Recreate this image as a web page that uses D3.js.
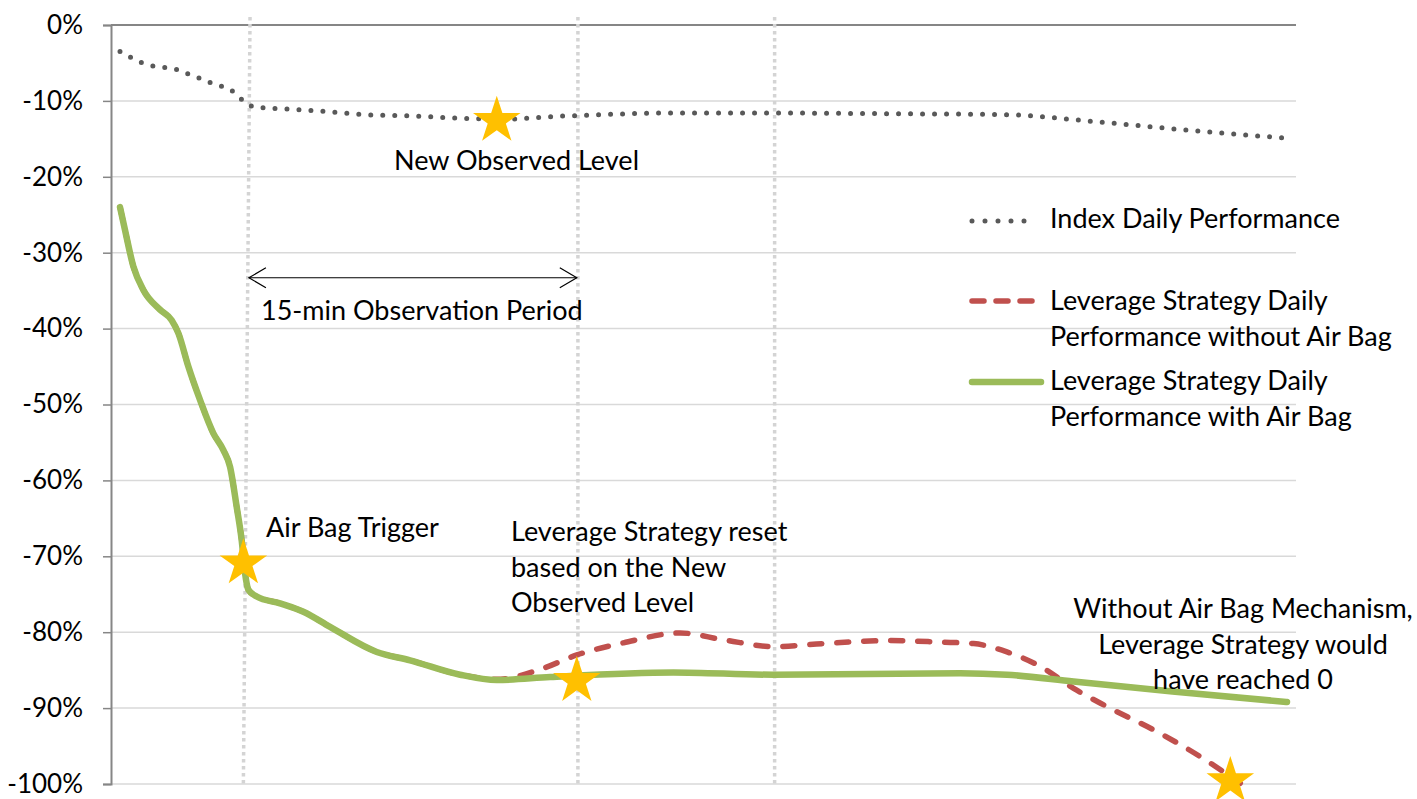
<!DOCTYPE html>
<html lang="en">
<head>
  <meta charset="UTF-8">
  <title>Air Bag Mechanism</title>
  <style>
    body { margin: 0; background: #ffffff; }
    svg { display: block; font-family: 'Lato', sans-serif; }
  </style>
  <script src="https://d3js.org/d3.v7.min.js"></script>
</head>
<body>
  <div id="chart"></div>
  <script>
    // time in half-minute steps; values in %
    const yTicks = [0, -10, -20, -30, -40, -50, -60, -70, -80, -90, -100];

    const tIndex = [0, 1, 2, 3, 4.1, 5.2, 6.2, 7.3, 8.3, 9.4, 10.3, 11.1, 12.1, 15.3, 18.6, 21.9, 26.4, 30.9, 35.1, 38.4, 41.7, 49.5, 58.8, 70.2, 79.4, 87.5, 95.6, 104.9];
    const indexPerf = [-3.5, -4.3, -5.0, -5.4, -5.6, -5.9, -6.5, -7.1, -7.7, -8.2, -8.9, -10.0, -10.8, -11.1, -11.4, -11.8, -12.0, -12.3, -12.4, -12.1, -11.9, -11.6, -11.6, -11.7, -11.8, -12.7, -13.8, -14.9];

    const tWith = [0, 0.45, 1.2, 2.1, 3.6, 4.65, 5.25, 6.15, 7.2, 8.4, 9.3, 9.9, 10.5, 10.95, 11.25, 11.55, 12.3, 14.4, 16.5, 18.9, 23.1, 26.1, 30.6, 33.9, 38.7, 49.8, 58.8, 75.6, 79.8, 85.8, 94.7, 105];
    const withAirBag = [-24.0, -27.0, -31.8, -34.9, -37.5, -38.9, -40.6, -45.0, -49.4, -53.8, -56.0, -58.2, -63.5, -67.9, -72.2, -74.4, -75.3, -76.2, -77.3, -79.3, -82.6, -83.7, -85.6, -86.3, -85.9, -85.3, -85.6, -85.4, -85.6, -86.5, -87.8, -89.2];

    const tWithout = [0, 0.45, 1.2, 2.1, 3.6, 4.65, 5.25, 6.15, 7.2, 8.4, 9.3, 9.9, 10.5, 10.95, 11.25, 11.55, 12.3, 14.4, 16.5, 18.9, 23.1, 26.1, 30.6, 33.9, 37.8, 41.1, 45.3, 50.4, 54.3, 58.8, 63.3, 69.3, 73.8, 76.8, 79.8, 82.8, 85.8, 88.8, 93.3, 97.2, 100.8];
    const withoutAirBag = [-24.0, -27.0, -31.8, -34.9, -37.5, -38.9, -40.6, -45.0, -49.4, -53.8, -56.0, -58.2, -63.5, -67.9, -72.2, -74.4, -75.3, -76.2, -77.3, -79.3, -82.6, -83.7, -85.6, -86.2, -84.9, -83.0, -81.4, -80.1, -81.0, -81.9, -81.5, -81.1, -81.3, -81.5, -82.6, -84.5, -87.4, -89.8, -93.1, -96.4, -99.9];

    // stars: [t, value]
    const starT = [11.1, 33.9, 41.1, 99.9];
    const starV = [-70.9, -12.6, -86.4, -99.6];

    // vertical reference lines: t at top, t at bottom
    const vTop = [11.7, 41.2, 58.9];
    const vBottom = [11.1, 41.2, 58.9];

    const W = 1417, H = 799;
    const x = d3.scaleLinear().domain([0, 105]).range([120, 1287]);
    const y = d3.scaleLinear().domain([-100, 0]).range([784, 25]);
    const plotL = 111, plotR = 1296;
    const FS = 27;

    const svg = d3.select('#chart').append('svg')
      .attr('width', W).attr('height', H);

    // gridlines
    svg.append('g').selectAll('line').data(yTicks.slice(1)).join('line')
      .attr('x1', plotL).attr('x2', plotR)
      .attr('y1', d => y(d)).attr('y2', d => y(d))
      .attr('stroke', '#d9d9d9').attr('stroke-width', 1.5);

    // y axis
    const yAxis = svg.append('g')
      .attr('transform', `translate(${plotL},0)`)
      .call(d3.axisLeft(y).tickValues(yTicks).tickSize(8).tickPadding(20)
        .tickFormat(d => d + '%'));
    yAxis.select('.domain').attr('stroke', '#868686').attr('stroke-width', 2);
    yAxis.selectAll('.tick line').attr('stroke', '#868686').attr('stroke-width', 1.5);
    yAxis.selectAll('.tick text')
      .attr('font-size', 26).attr('fill', '#000').attr('font-family', 'Lato');

    // horizontal axis at 0
    svg.append('line')
      .attr('x1', plotL).attr('x2', plotR)
      .attr('y1', y(0)).attr('y2', y(0))
      .attr('stroke', '#868686').attr('stroke-width', 2);

    // vertical dotted reference lines
    svg.append('g').selectAll('line').data(vTop).join('line')
      .attr('x1', d => x(d)).attr('y1', 17)
      .attr('x2', (d, i) => x(vBottom[i])).attr('y2', y(-100))
      .attr('stroke', '#d4d4d4').attr('stroke-width', 3.5)
      .attr('stroke-dasharray', '3.5,3.5');

    const line = d3.line().curve(d3.curveMonotoneX)
      .x(d => x(d[0])).y(d => y(d[1]));

    svg.append('path')
      .attr('d', line(tIndex.map((t, i) => [t, indexPerf[i]])))
      .attr('fill', 'none').attr('stroke', '#595959')
      .attr('stroke-width', 5).attr('stroke-linecap', 'round')
      .attr('stroke-dasharray', '0,12');

    svg.append('path')
      .attr('d', line(tWithout.map((t, i) => [t, withoutAirBag[i]])))
      .attr('fill', 'none').attr('stroke', '#c0504d')
      .attr('stroke-width', 5.5).attr('stroke-linecap', 'round')
      .attr('stroke-dasharray', '12,15');

    svg.append('path')
      .attr('d', line(tWith.map((t, i) => [t, withAirBag[i]])))
      .attr('fill', 'none').attr('stroke', '#9bbb59')
      .attr('stroke-width', 6.5).attr('stroke-linecap', 'round')
      .attr('stroke-linejoin', 'round');

    // stars
    const starPts = (cx, cy, R) => {
      const r = R * 0.382, pts = [];
      for (let k = 0; k < 10; k++) {
        const a = -Math.PI / 2 + k * Math.PI / 5, rr = k % 2 ? r : R;
        pts.push([cx + rr * Math.cos(a), cy + rr * Math.sin(a)]);
      }
      return pts.map(p => p.join(',')).join(' ');
    };
    svg.append('g').selectAll('polygon').data(starT).join('polygon')
      .attr('points', (d, i) => starPts(x(d), y(starV[i]), 25))
      .attr('fill', '#ffc000');

    // observation period arrow
    const ax1 = x(11.6), ax2 = x(41.1), ay = y(-33.3);
    svg.append('line').attr('x1', ax1).attr('x2', ax2).attr('y1', ay).attr('y2', ay)
      .attr('stroke', '#000').attr('stroke-width', 1.2);
    svg.append('path')
      .attr('d', `M${ax1 + 17},${ay - 10} L${ax1},${ay} L${ax1 + 17},${ay + 10}` +
                 ` M${ax2 - 17},${ay - 10} L${ax2},${ay} L${ax2 - 17},${ay + 10}`)
      .attr('fill', 'none').attr('stroke', '#000').attr('stroke-width', 1.2);

    // annotations
    const notes = [
      { x: 394, y: 170, anchor: 'start', lines: ['New Observed Level'] },
      { x: 261, y: 320, anchor: 'start', lines: ['15-min Observation Period'] },
      { x: 266, y: 537, anchor: 'start', lines: ['Air Bag Trigger'] },
      { x: 511, y: 541, anchor: 'start', lines: ['Leverage Strategy reset', 'based on the New', 'Observed Level'] },
      { x: 1243, y: 618, anchor: 'middle', lines: ['Without Air Bag Mechanism,', 'Leverage Strategy would', 'have reached 0'] }
    ];
    notes.forEach(n => {
      const t = svg.append('text').attr('x', n.x).attr('y', n.y)
        .attr('text-anchor', n.anchor).attr('font-size', FS).attr('fill', '#000');
      n.lines.forEach((s, i) => t.append('tspan').attr('x', n.x).attr('dy', i ? 35.5 : 0).text(s));
    });

    // legend
    const legend = svg.append('g');
    const legItems = [
      { y: 221, dash: '0,13', color: '#595959', w: 5, x2: 1037, lines: ['Index Daily Performance'], ty: 228 },
      { y: 301, dash: '12,12', color: '#c0504d', w: 5.5, x2: 1036, lines: ['Leverage Strategy Daily', 'Performance without Air Bag'], ty: 310 },
      { y: 382, dash: null, color: '#9bbb59', w: 6.5, x2: 1041, lines: ['Leverage Strategy Daily', 'Performance with Air Bag'], ty: 390 }
    ];
    legItems.forEach(it => {
      legend.append('line').attr('x1', 972).attr('x2', it.x2).attr('y1', it.y).attr('y2', it.y)
        .attr('stroke', it.color).attr('stroke-width', it.w).attr('stroke-linecap', 'round')
        .attr('stroke-dasharray', it.dash);
      const t = legend.append('text').attr('x', 1050).attr('y', it.ty)
        .attr('font-size', FS).attr('fill', '#000');
      it.lines.forEach((s, i) => t.append('tspan').attr('x', 1050).attr('dy', i ? 36 : 0).text(s));
    });
  </script>
</body>
</html>
